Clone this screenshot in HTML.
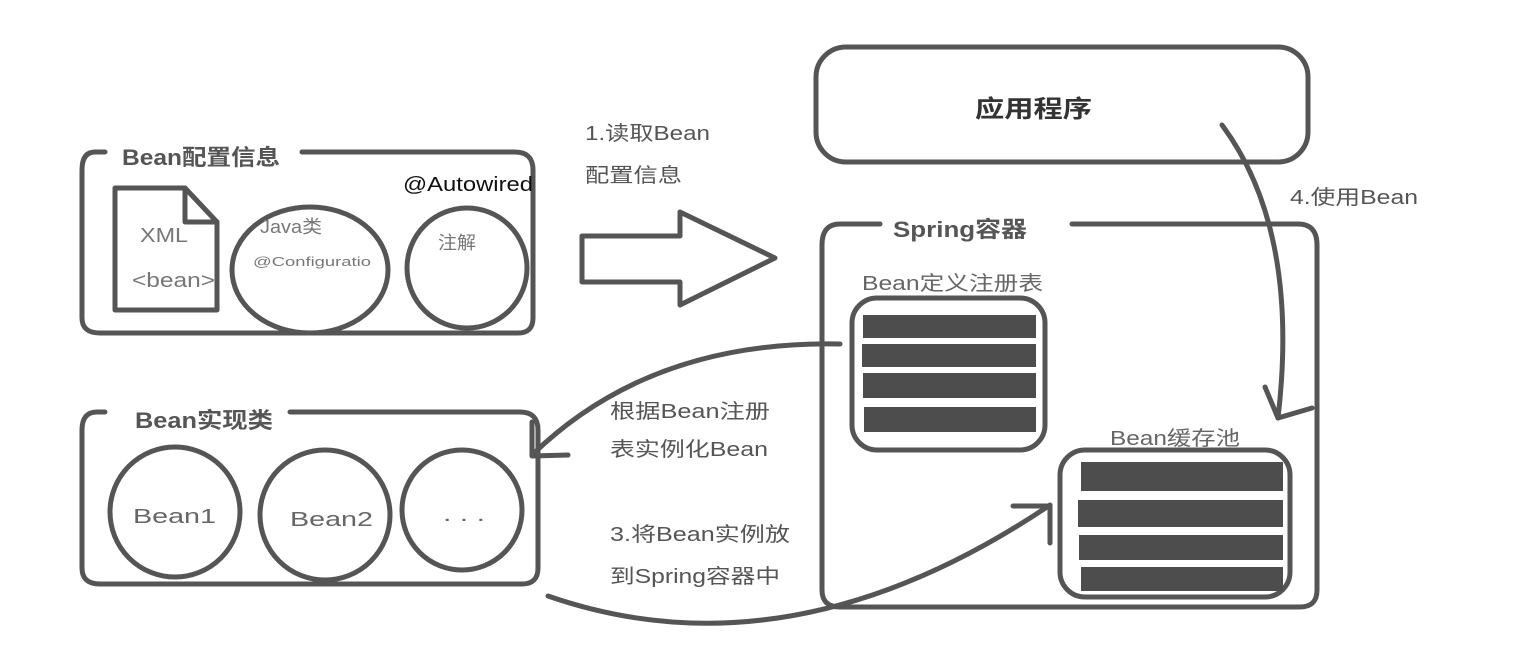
<!DOCTYPE html>
<html><head><meta charset="utf-8"><style>
html,body{margin:0;padding:0;background:#fff;}
svg{display:block;}
text{font-family:"Liberation Sans","Noto Sans CJK SC",sans-serif;}
</style></head><body>
<svg width="1530" height="670" viewBox="0 0 1530 670">
<g fill="none" stroke="#555" stroke-width="5" stroke-linecap="round" stroke-linejoin="round">
<path d="M105 152 H95 Q82 152 82 170 V318 Q82 333 100 333 H518 Q533 333 533 318 V170 Q533 152 515 152 H302"/>
<path d="M115 188 H185 L217 222 V310 H115 Z"/>
<path d="M185 188 V222 H217"/>
<ellipse cx="310" cy="270" rx="78" ry="63"/>
<circle cx="467" cy="268" r="60"/>
<path d="M582 236 H680 V212 L775 258 L680 305 V282 H582 Z"/>
<rect x="816" y="47" width="492" height="115" rx="30"/>
<path d="M880 224 H840 Q822 224 822 245 V590 Q822 607 840 607 H1300 Q1317 607 1317 590 V245 Q1317 224 1298 224 H1072"/>
<rect x="852" y="298" width="193" height="152" rx="25"/>
<rect x="1060" y="450" width="230" height="147" rx="25"/>
<path d="M105 412 H97 Q82 412 82 430 V568 Q82 584 100 584 H522 Q538 584 538 568 V430 Q538 412 520 412 H290"/>
<circle cx="175" cy="512" r="65"/>
<circle cx="325" cy="515" r="65"/>
<circle cx="462" cy="510" r="60"/>
<path d="M1222 125 Q1300 230 1278 418"/>
<path d="M1265 387 L1278 418 L1312 408"/>
<path d="M840 344 Q650 340 532 455"/>
<path d="M532 422 L532 456 L568 455"/>
<path d="M548 596 Q790 680 1050 505"/>
<path d="M1013 506 H1050 V543"/>
</g>
<g fill="#4d4d4d">
<rect x="863" y="315" width="173" height="23"/>
<rect x="862" y="344" width="174" height="23"/>
<rect x="863" y="373" width="173" height="25"/>
<rect x="864" y="407" width="172" height="25"/>
<rect x="1081" y="462" width="202" height="29"/>
<rect x="1078" y="500" width="205" height="27"/>
<rect x="1079" y="535" width="204" height="25"/>
<rect x="1081" y="567" width="202" height="24"/>
</g>
<g fill="#555" font-size="20" lengthAdjust="spacingAndGlyphs">
<text x="122" y="165" font-weight="bold" font-size="22" textLength="158" lengthAdjust="spacingAndGlyphs">Bean配置信息</text>
<text x="140" y="242" fill="#777" textLength="48" lengthAdjust="spacingAndGlyphs">XML</text>
<text x="132" y="287" fill="#777" textLength="83" lengthAdjust="spacingAndGlyphs">&lt;bean&gt;</text>
<text x="260" y="233" fill="#777" font-size="18" textLength="62" lengthAdjust="spacingAndGlyphs">Java类</text>
<text x="253" y="266" fill="#777" font-size="13" textLength="118" lengthAdjust="spacingAndGlyphs">@Configuratio</text>
<text x="438" y="249" fill="#777" font-size="18" textLength="38" lengthAdjust="spacingAndGlyphs">注解</text>
<text x="403" y="191" fill="#111" textLength="130" lengthAdjust="spacingAndGlyphs">@Autowired</text>
<text x="585" y="140" textLength="125" lengthAdjust="spacingAndGlyphs">1.读取Bean</text>
<text x="585" y="182" textLength="97" lengthAdjust="spacingAndGlyphs">配置信息</text>
<text x="975" y="117" font-weight="bold" font-size="24" fill="#333" textLength="117" lengthAdjust="spacingAndGlyphs">应用程序</text>
<text x="893" y="237" font-weight="bold" font-size="22" textLength="134" lengthAdjust="spacingAndGlyphs">Spring容器</text>
<text x="862" y="290" fill="#666" textLength="181" lengthAdjust="spacingAndGlyphs">Bean定义注册表</text>
<text x="1110" y="445" fill="#666" textLength="130" lengthAdjust="spacingAndGlyphs">Bean缓存池</text>
<text x="1290" y="204" textLength="128" lengthAdjust="spacingAndGlyphs">4.使用Bean</text>
<text x="135" y="428" font-weight="bold" font-size="22" textLength="138" lengthAdjust="spacingAndGlyphs">Bean实现类</text>
<text x="133" y="523" fill="#666" textLength="83" lengthAdjust="spacingAndGlyphs">Bean1</text>
<text x="290" y="526" fill="#666" textLength="83" lengthAdjust="spacingAndGlyphs">Bean2</text>
<text x="443" y="521" fill="#666" textLength="42" lengthAdjust="spacingAndGlyphs">. . .</text>
<text x="610" y="418" textLength="160" lengthAdjust="spacingAndGlyphs">根据Bean注册</text>
<text x="610" y="456" textLength="158" lengthAdjust="spacingAndGlyphs">表实例化Bean</text>
<text x="610" y="541" textLength="180" lengthAdjust="spacingAndGlyphs">3.将Bean实例放</text>
<text x="610" y="583" textLength="170" lengthAdjust="spacingAndGlyphs">到Spring容器中</text>
</g>
</svg>
</body></html>
